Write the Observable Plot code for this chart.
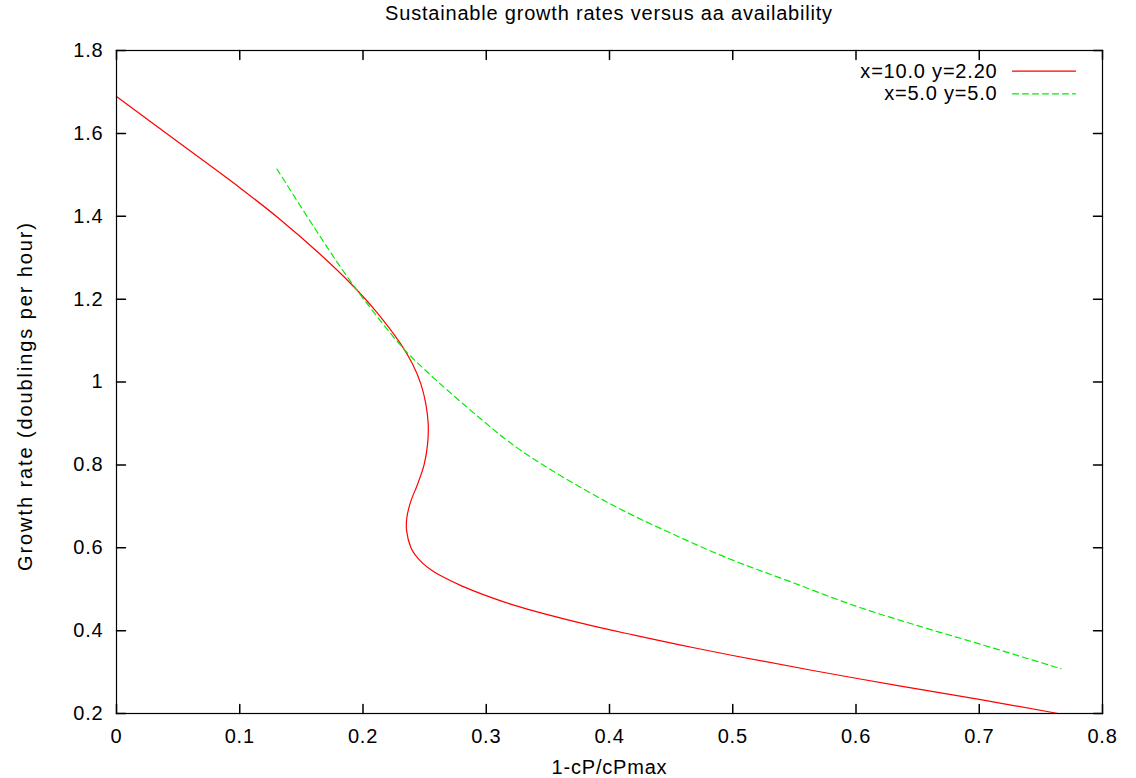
<!DOCTYPE html>
<html>
<head>
<meta charset="utf-8">
<script src="https://cdn.jsdelivr.net/npm/d3@7"></script>
<script src="https://cdn.jsdelivr.net/npm/@observablehq/plot@0.6"></script>
<style>
  body { margin: 0; background: #fff; }
  #title {
    height: 26px; line-height: 26px; width: 1136px;
    font-family: "Liberation Sans", Arial, sans-serif; font-size: 20px; letter-spacing: 0.8px;
    color: #000; position: relative;
  }
  #title span { position: absolute; left: 609px; transform: translateX(-50%); white-space: nowrap; top: 0; }
</style>
</head>
<body>
<div id="title"><span id="titletext"></span></div>
<div id="chart"></div>
<script>
// ---- data ----
const titleText = "Sustainable growth rates versus aa availability";
const xLabel = "1-cP/cPmax";
const yLabel = "Growth rate (doublings per hour)";

const xTicks = [0, 0.1, 0.2, 0.3, 0.4, 0.5, 0.6, 0.7, 0.8];
const xTickLabels = ["0", "0.1", "0.2", "0.3", "0.4", "0.5", "0.6", "0.7", "0.8"];
const yTicks = [0.2, 0.4, 0.6, 0.8, 1.0, 1.2, 1.4, 1.6, 1.8];
const yTickLabels = ["0.2", "0.4", "0.6", "0.8", "1", "1.2", "1.4", "1.6", "1.8"];

const seriesNames = ["x=10.0 y=2.20", "x=5.0 y=5.0"];

// series 1 (red, solid) - parametric S-shaped curve, in drawing order
const redX = [0.000, 0.050, 0.100, 0.132, 0.165, 0.1906, 0.2107, 0.2307, 0.2402, 0.2470, 0.2510, 0.2529, 0.2524,
              0.2497, 0.2443, 0.2389, 0.2356, 0.2354, 0.2389, 0.2425, 0.2483, 0.2560, 0.2659, 0.280, 0.295, 0.323, 0.377,
              0.420, 0.458, 0.500, 0.600, 0.700, 0.764];
const redY = [1.689, 1.579, 1.469, 1.394, 1.309, 1.236, 1.170, 1.0915, 1.0432, 0.995, 0.9466, 0.8983, 0.850,
              0.8017, 0.7534, 0.713, 0.673, 0.6406, 0.600, 0.582, 0.563, 0.545, 0.528, 0.508, 0.490, 0.461, 0.418,
              0.389, 0.365, 0.340, 0.285, 0.234, 0.200];

// series 2 (green, dashed)
const greenX = [0.1302, 0.160, 0.1906, 0.231, 0.250, 0.296, 0.3285, 0.400, 0.458, 0.500, 0.545, 0.600, 0.650, 0.700, 0.7664];
const greenY = [1.514, 1.375, 1.240, 1.087, 1.030, 0.910, 0.834, 0.707, 0.624, 0.570, 0.520, 0.459, 0.412, 0.368, 0.308];

// ---- build ----
document.getElementById("titletext").textContent = titleText;
const red = redX.map((x, i) => ({x, y: redY[i]}));
const green = greenX.map((x, i) => ({x, y: greenY[i]}));
const xFmt = new Map(xTicks.map((t, i) => [t, xTickLabels[i]]));
const yFmt = new Map(yTicks.map((t, i) => [t, yTickLabels[i]]));

const tickShape = { draw(ctx, l) { ctx.moveTo(0, 0); ctx.lineTo(0, -l); } };
const TL = 9;

const legendRows = [
  {name: seriesNames[0], stroke: "#ff0000", dash: null, dy: 20.7},
  {name: seriesNames[1], stroke: "#00ee00", dash: "6,4", dy: 43.3}
];

const chart = Plot.plot({
  width: 1136,
  height: 752,
  marginTop: 24,
  marginBottom: 65,
  marginLeft: 116,
  marginRight: 34,
  style: {fontFamily: "'Liberation Sans', Arial, sans-serif", fontSize: "20px", letterSpacing: "0.8px", color: "#000", background: "#fff"},
  x: {domain: [0, 0.8]},
  y: {domain: [0.2, 1.8]},
  marks: [
    Plot.axisX({ticks: xTicks, tickSize: 0, tickPadding: 15, tickFormat: d => xFmt.get(d), label: null}),
    Plot.axisY({ticks: yTicks, tickSize: 0, tickPadding: 13, tickFormat: d => yFmt.get(d), label: null}),
    // inward ticks on all four sides
    Plot.vector(xTicks, {x: d => d, y: () => 0.2, length: TL, rotate: 0, anchor: "start", shape: tickShape, stroke: "#000"}),
    Plot.vector(xTicks, {x: d => d, y: () => 1.8, length: TL, rotate: 180, anchor: "start", shape: tickShape, stroke: "#000"}),
    Plot.vector(yTicks, {x: () => 0, y: d => d, length: TL, rotate: 90, anchor: "start", shape: tickShape, stroke: "#000"}),
    Plot.vector(yTicks, {x: () => 0.8, y: d => d, length: TL, rotate: -90, anchor: "start", shape: tickShape, stroke: "#000"}),
    // series
    Plot.line(red, {x: "x", y: "y", stroke: "#ff0000", strokeWidth: 1.2, curve: "catmull-rom"}),
    Plot.line(green, {x: "x", y: "y", stroke: "#00ee00", strokeWidth: 1.2, strokeDasharray: "6,4", curve: "catmull-rom"}),
    Plot.frame({stroke: "#000", strokeWidth: 1.2}),
    // axis labels
    Plot.text([xLabel], {frameAnchor: "bottom", text: d => d, dy: 54, textAnchor: "middle", lineAnchor: "middle", fill: "#000"}),
    Plot.text([yLabel], {frameAnchor: "left", text: d => d, dx: -90.5, dy: 14, rotate: -90, textAnchor: "middle", lineAnchor: "middle", fill: "#000"}),
    // legend
    ...legendRows.map(r => Plot.text([r.name], {frameAnchor: "top-right", text: d => d, dx: -105, dy: r.dy, textAnchor: "end", lineAnchor: "middle", fill: "#000"})),
    ...legendRows.map(r => Plot.vector([0], {frameAnchor: "top-right", dx: -90, dy: r.dy, length: 63, rotate: 90, anchor: "start", shape: tickShape, stroke: r.stroke, strokeWidth: 1.2, strokeDasharray: r.dash}))
  ]
});
d3.select(chart).selectAll("text").filter(function() { return this.textContent === yLabel; })
  .style("letter-spacing", "1.9px");
document.getElementById("chart").appendChild(chart);
</script>
</body>
</html>
